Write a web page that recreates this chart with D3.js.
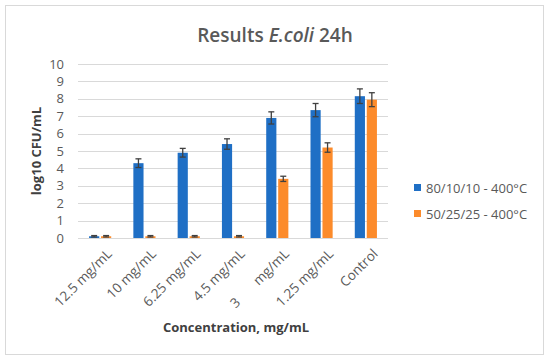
<!DOCTYPE html>
<html>
<head>
<meta charset="utf-8">
<script src="https://cdn.jsdelivr.net/npm/d3@7"></script>
<style>
  html, body { margin: 0; padding: 0; background: #fff; }
  svg { display: block; font-family: 'Open Sans', sans-serif; }
</style>
</head>
<body>
<svg id="chart"></svg>
<script>
// data
const categories = ['12.5 mg/mL', '10 mg/mL', '6.25 mg/mL', '4.5 mg/mL', '3       mg/mL', '1.25 mg/mL', 'Control']
const seriesNames = ['80/10/10 - 400°C', '50/25/25 - 400°C']
const blueValues = [0.1, 4.3, 4.9, 5.4, 6.9, 7.35, 8.15]
const blueErrors = [0.04, 0.25, 0.25, 0.3, 0.35, 0.38, 0.42]
const orangeValues = [0.1, 0.1, 0.1, 0.1, 3.4, 5.2, 7.95]
const orangeErrors = [0.04, 0.04, 0.04, 0.04, 0.15, 0.27, 0.4]
const yTicks = [0, 1, 2, 3, 4, 5, 6, 7, 8, 9, 10]

const width = 550
const height = 360
const margin = { top: 64, right: 162, bottom: 122, left: 78 }
const colors = ['#1f6fc5', '#fc8b2b']

const svg = d3.select('#chart')
  .attr('width', width)
  .attr('height', height)

// frame
svg.append('rect')
  .attr('x', 5.5).attr('y', 5.5)
  .attr('width', 538).attr('height', 349)
  .attr('fill', '#fff')
  .attr('stroke', '#d9d9d9')

// 表格資料
const rows = categories.map((c, i) => ({
  cat: c,
  vals: [
    { key: 0, v: blueValues[i], e: blueErrors[i] },
    { key: 1, v: orangeValues[i], e: orangeErrors[i] }
  ]
}))

const x0 = d3.scaleBand()
  .domain(categories)
  .range([margin.left, width - margin.right])
  .paddingInner(0.5)
  .paddingOuter(0.25)

const x1 = d3.scaleBand()
  .domain([0, 1])
  .range([0, x0.bandwidth()])
  .paddingInner(0.15)

const y = d3.scaleLinear()
  .domain([0, 10])
  .range([height - margin.bottom, margin.top])

// gridlines
svg.append('g')
  .selectAll('line')
  .data(yTicks)
  .enter()
  .append('line')
  .attr('x1', margin.left)
  .attr('x2', width - margin.right)
  .attr('y1', d => Math.round(y(d)) + 0.5)
  .attr('y2', d => Math.round(y(d)) + 0.5)
  .attr('stroke', '#d9d9d9')
  .attr('stroke-width', 1)

// y axis labels
const yAxis = d3.axisLeft(y).tickValues(yTicks).tickSize(0).tickPadding(0)
svg.append('g')
  .attr('transform', `translate(${margin.left - 14},0)`)
  .call(yAxis)
  .call(g => g.select('.domain').remove())
  .selectAll('text')
  .attr('font-family', "'Open Sans', sans-serif")
  .attr('font-size', 13)
  .attr('fill', '#595959')

// bars
const groups = svg.append('g')
  .selectAll('g')
  .data(rows)
  .enter()
  .append('g')
  .attr('transform', d => `translate(${x0(d.cat)},0)`)

groups.selectAll('rect')
  .data(d => d.vals)
  .enter()
  .append('rect')
  .attr('x', d => x1(d.key))
  .attr('y', d => y(d.v))
  .attr('width', x1.bandwidth())
  .attr('height', d => y(0) - y(d.v))
  .attr('fill', d => colors[d.key])

// error bars
const capW = 3
const err = groups.selectAll('g.err')
  .data(d => d.vals)
  .enter()
  .append('g')
  .attr('class', 'err')
  .attr('stroke', '#404040')
  .attr('stroke-width', 1.3)

err.append('line')
  .attr('x1', d => x1(d.key) + x1.bandwidth() / 2)
  .attr('x2', d => x1(d.key) + x1.bandwidth() / 2)
  .attr('y1', d => y(d.v - d.e))
  .attr('y2', d => y(d.v + d.e))
err.append('line')
  .attr('x1', d => x1(d.key) + x1.bandwidth() / 2 - capW)
  .attr('x2', d => x1(d.key) + x1.bandwidth() / 2 + capW)
  .attr('y1', d => y(d.v + d.e))
  .attr('y2', d => y(d.v + d.e))
err.append('line')
  .attr('x1', d => x1(d.key) + x1.bandwidth() / 2 - capW)
  .attr('x2', d => x1(d.key) + x1.bandwidth() / 2 + capW)
  .attr('y1', d => y(d.v - d.e))
  .attr('y2', d => y(d.v - d.e))

// x labels, rotated
svg.append('g')
  .selectAll('text')
  .data(categories)
  .enter()
  .append('text')
  .attr('transform', d => `translate(${x0(d) + x0.bandwidth() / 2 + 6},${y(0) + 10}) rotate(-45)`)
  .attr('text-anchor', 'end')
  .attr('dy', '0.7em')
  .attr('font-size', 13.5)
  .attr('fill', '#595959')
  .style('white-space', 'pre')
  .text(d => d)

// title
const title = svg.append('text')
  .attr('x', 275)
  .attr('y', 42)
  .attr('text-anchor', 'middle')
  .attr('font-size', 19)
  .attr('font-weight', 600)
  .attr('fill', '#595959')
title.append('tspan').text('Results ')
title.append('tspan').attr('font-style', 'italic').text('E.coli')
title.append('tspan').text(' 24h')

// axis titles
svg.append('text')
  .attr('transform', `translate(41,151) rotate(-90)`)
  .attr('text-anchor', 'middle')
  .attr('font-size', 13)
  .attr('font-weight', 'bold')
  .attr('fill', '#404040')
  .text('log10 CFU/mL')

svg.append('text')
  .attr('x', 236)
  .attr('y', 332)
  .attr('text-anchor', 'middle')
  .attr('font-size', 13)
  .attr('font-weight', 'bold')
  .attr('fill', '#404040')
  .text('Concentration, mg/mL')

// legend
const legend = svg.append('g')
  .selectAll('g')
  .data(seriesNames)
  .enter()
  .append('g')
  .attr('transform', (d, i) => `translate(414,${184 + i * 26})`)

legend.append('rect')
  .attr('width', 7).attr('height', 7)
  .attr('fill', (d, i) => colors[i])
legend.append('text')
  .attr('x', 12)
  .attr('y', 4)
  .attr('dy', '0.35em')
  .attr('font-size', 13)
  .attr('fill', '#595959')
  .text(d => d)
</script>
</body>
</html>
